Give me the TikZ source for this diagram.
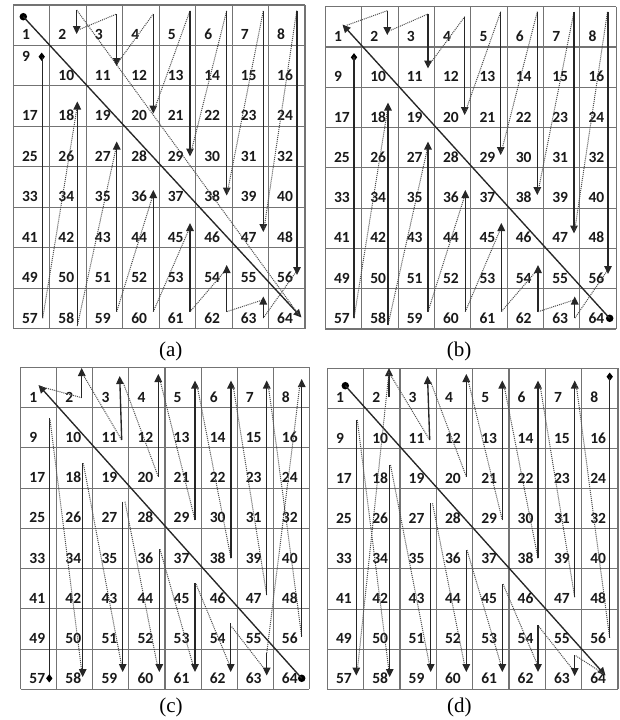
\documentclass[tikz,border=0pt]{standalone}
\usepackage{fontspec}
\setmainfont{Liberation Serif}
\newfontfamily\numfont{Carlito}
\usetikzlibrary{arrows.meta,shapes.geometric}

\tikzset{
  gridline/.style={draw=black!55, line width=1.1pt},
  num/.style={anchor=base west, inner sep=0pt, font=\numfont\bfseries\fontsize{15.5}{15.5}\selectfont, text=black!90},
  sline/.style={draw=black!85, line width=1.35pt},
  dline/.style={draw=black!70, line width=1pt, densely dotted},
  arrowend/.style={-{Triangle[length=8pt,width=7.5pt]}},
  dotmark/.style={circle, fill=black, inner sep=0pt, minimum size=7.5pt},
  diamark/.style={diamond, fill=black, inner sep=0pt, minimum width=6.5pt, minimum height=8.5pt},
  captext/.style={font=\fontsize{21}{21}\selectfont, inner sep=0pt},
}

\newcommand\drawgrid[6]{%
  \foreach \ii in {0,...,8} {%
    \draw[gridline] ({#1+(#3-#1)*\ii/8},#2) -- ({#1+(#3-#1)*\ii/8},#4);
    \draw[gridline] (#1,{#2+(#4-#2)*\ii/8}) -- (#3,{#2+(#4-#2)*\ii/8});
  }
  \foreach \rr in {0,...,7} {\foreach \cc in {0,...,7} {%
    \pgfmathtruncatemacro\cellnum{\rr*8+\cc+1}%
    \ifnum\cellnum=#6\relax
      \node[num] (#5\cellnum) at ({#1+(#3-#1)*\cc/8+8.5},{#2+(#4-#2)*\rr/8+16}) {\cellnum};
    \else
      \node[num] (#5\cellnum) at ({#1+(#3-#1)*\cc/8+8.5},{#2+(#4-#2)*(\rr+1)/8-5.5}) {\cellnum};
    \fi
  }}
}
\newcommand\seg[4]{\coordinate (#1s) at (#3); \coordinate (#1e) at (#4); \draw[#2] (#1s) -- (#1e);}

\begin{document}
\begin{tikzpicture}[x=1pt,y=-1pt]
\fill[white] (0,0) rectangle (619,720);
\useasboundingbox (0,0) rectangle (619,720);

\drawgrid{13.3}{5}{305}{328.5}{a}{9}
\drawgrid{325.3}{6.7}{616.3}{329}{b}{0}
\drawgrid{20.7}{367.3}{309.3}{689.3}{c}{0}
\drawgrid{327.3}{368.3}{618}{689.3}{d}{0}

% ---------- panel (a)
\node[dotmark] (adot) at (23.3,16.7) {};
\coordinate (aend) at (301.5,317.5);
\draw[sline,arrowend] (adot.center) -- (aend);
\seg{aL}{dline}{76.7,10}{299,315}
\seg{aU2}{sline,arrowend}{76.7,10}{76.7,34}
\seg{aD2}{dline}{78,30}{116.7,14}
\seg{aU3}{sline,arrowend}{116.7,14}{116.7,66}
\seg{aD3}{dline}{117.5,63}{153.3,14}
\seg{aU4}{sline,arrowend}{153.3,14}{153.3,113.5}
\seg{aD4}{dline}{154,110.5}{190,10.7}
\seg{aU5}{sline,arrowend}{190,10.7}{190,156.5}
\seg{aD5}{dline}{190.7,153.5}{226.7,10.7}
\seg{aU6}{sline,arrowend}{226.7,10.7}{226.7,195.5}
\seg{aD6}{dline}{227.3,192.5}{263.3,10.7}
\seg{aU7}{sline,arrowend}{263.3,10.7}{263.3,232}
\seg{aD7}{dline}{264,229}{296.7,10.7}
\seg{aU8}{sline,arrowend}{297,10.7}{297,275}
\seg{aD8}{dline}{296,272}{263.3,318}
\node[diamark] (adia) at (41.7,56.7) {};
\seg{aV1}{sline}{42.7,57}{42.7,318.3}
\seg{aE1}{dline}{42.7,318.3}{77.3,106}
\seg{aV2}{sline,arrowend}{77.3,326}{77.3,101.5}
\seg{aE2}{dline}{77.3,326}{116.7,145}
\seg{aV3}{sline,arrowend}{116.7,311.7}{116.7,141.5}
\seg{aE3}{dline}{116.7,311.7}{153.3,194}
\seg{aV4}{sline,arrowend}{153.3,311.7}{153.3,190}
\seg{aE4}{dline}{153.3,311.7}{190,227}
\seg{aV5}{sline,arrowend}{190,311.7}{190,223}
\seg{aE5}{dline}{190,311.7}{226.7,269}
\seg{aV6}{sline,arrowend}{226.7,311.7}{226.7,265}
\seg{aE6}{dline}{226.7,311.7}{262.5,300}
\seg{aV7}{sline,arrowend}{263.3,318}{263.3,296.5}

% ---------- panel (b)
\node[dotmark] (bdot) at (609.7,318.3) {};
\coordinate (bend) at (342.5,24.5);
\draw[sline,arrowend] (bdot.center) -- (bend);
\seg{bS}{dline}{387.3,10.7}{346,25.5}
\seg{bU2}{sline,arrowend}{387.3,10.7}{387.3,35}
\seg{bD2}{dline}{389,31}{428,14}
\seg{bU3}{sline,arrowend}{428,14}{428,68.5}
\seg{bD3}{dline}{428.7,65.5}{464.7,16.7}
\seg{bU4}{sline,arrowend}{464.7,16.7}{464.7,115}
\seg{bD4}{dline}{465.3,112}{500.7,11.7}
\seg{bU5}{sline,arrowend}{500.7,11.7}{500.7,155}
\seg{bD5}{dline}{501.3,152}{537.3,11.7}
\seg{bU6}{sline,arrowend}{537.3,11.7}{537.3,195}
\seg{bD6}{dline}{538,192}{574,11.7}
\seg{bU7}{sline,arrowend}{574,11.7}{574,233.5}
\seg{bD7}{dline}{574.7,230.5}{607.5,11.7}
\seg{bU8}{sline,arrowend}{608,11.7}{608,274}
\seg{bD8}{dline}{607,271}{574.7,318.3}
\node[diamark] (bdia) at (354,57.3) {};
\seg{bV1}{sline}{354,57.3}{354,318.3}
\seg{bE1}{dline}{354,318.3}{388,107}
\seg{bV2}{sline,arrowend}{388,325}{388,102.5}
\seg{bE2}{dline}{388,325}{428,146}
\seg{bV3}{sline,arrowend}{428,311.7}{428,141.5}
\seg{bE3}{dline}{428,311.7}{465.3,194}
\seg{bV4}{sline,arrowend}{465.3,311.7}{465.3,190}
\seg{bE4}{dline}{465.3,311.7}{501.3,227}
\seg{bV5}{sline,arrowend}{501.3,311.7}{501.3,223}
\seg{bE5}{dline}{501.3,311.7}{538,269}
\seg{bV6}{sline,arrowend}{538,311.7}{538,265}
\seg{bE6}{dline}{538,311.7}{574,300}
\seg{bV7}{sline,arrowend}{574.7,318.3}{574.7,296.5}

% ---------- panel (c)
\node[dotmark] (cdot) at (301.7,678.3) {};
\coordinate (cend) at (38.5,385);
\draw[sline,arrowend] (cdot.center) -- (cend);
\seg{cS}{dline}{81.7,397.7}{42,387}
\seg{cU2}{sline,arrowend}{81.7,397.7}{81.7,368}
\seg{cD2}{dline}{83.3,375}{121.7,440}
\seg{cU3}{sline,arrowend}{121.7,440}{119.7,376}
\seg{cD3}{dline}{123.3,383}{158.3,476.7}
\seg{cU4}{sline,arrowend}{158.3,476.7}{158.3,374}
\seg{cD4}{dline}{160,380}{195,520}
\seg{cU5}{sline,arrowend}{195,520}{195,380.5}
\seg{cD5}{dline}{197,385}{231,558.3}
\seg{cU6}{sline,arrowend}{231,558.3}{231,380.5}
\seg{cD6}{dline}{233,385}{266.7,595}
\seg{cU7}{sline,arrowend}{266.7,595}{266.7,380.5}
\seg{cD7}{dline}{268.3,385}{301.7,636.7}
\seg{cU8}{sline,arrowend}{301.7,636.7}{301.7,379}
\seg{cD8}{dline}{300,384}{266.7,653.3}
\seg{cV1}{sline}{49.3,418.3}{49.3,678.3}
\node[diamark] (cdia) at (49.3,678.3) {};
\seg{cE1}{dline}{50,420}{81.7,671}
\seg{cV2}{sline,arrowend}{82.7,463.3}{82.7,677}
\seg{cE2}{dline}{83.3,463.3}{121.7,666}
\seg{cV3}{sline,arrowend}{122.7,501.7}{122.7,672}
\seg{cE3}{dline}{125,501.7}{157.5,666}
\seg{cV4}{sline,arrowend}{159.3,549.3}{159.3,672}
\seg{cE4}{dline}{160,549.3}{193.3,666}
\seg{cV5}{sline,arrowend}{195,583.3}{195,672}
\seg{cE5}{dline}{196,584}{230,666}
\seg{cV6}{sline,arrowend}{230.7,623.3}{230.7,672}
\seg{cE6}{dline}{231.7,626.7}{266,671}
\seg{cV7}{sline,arrowend}{266.7,653.3}{266.7,675.5}

% ---------- panel (d)
\node[dotmark] (ddot) at (345.3,385.7) {};
\coordinate (dend) at (605.5,675.5);
\draw[sline,arrowend] (ddot.center) -- (dend);
\seg{dU2}{sline,arrowend}{389,396.7}{389,368}
\seg{dD2}{dline}{390.5,375}{429.7,440}
\seg{dU3}{sline,arrowend}{429.7,440}{427.5,376}
\seg{dD3}{dline}{430.7,382}{466.3,476.7}
\seg{dU4}{sline,arrowend}{466.3,476.7}{466.3,374}
\seg{dD4}{dline}{468,380}{502.3,520}
\seg{dU5}{sline,arrowend}{502.3,520}{502.3,380.5}
\seg{dD5}{dline}{504,385}{538,558.3}
\seg{dU6}{sline,arrowend}{538,558.3}{538,380.5}
\seg{dD6}{dline}{540,385}{574.7,597.3}
\seg{dU7}{sline,arrowend}{574.7,597.3}{574.7,380.5}
\seg{dD7}{dline}{576.3,385}{609.7,638.3}
\node[diamark] (ddia) at (609.7,376.7) {};
\seg{dU8}{sline}{609.7,376.7}{609.7,638.3}
\seg{dV1}{sline,arrowend}{356.3,420}{356.3,675.5}
\seg{dS}{dline}{389,372}{357.5,669}
\seg{dE1}{dline}{357.3,420}{389,671}
\seg{dV2}{sline,arrowend}{389.7,465}{389.7,677}
\seg{dE2}{dline}{390.5,465}{429.7,666}
\seg{dV3}{sline,arrowend}{430.7,503.3}{430.7,672}
\seg{dE3}{dline}{432.5,503.3}{464.7,666}
\seg{dV4}{sline,arrowend}{466.3,550}{466.3,672}
\seg{dE4}{dline}{467,550}{501.3,666}
\seg{dV5}{sline,arrowend}{502.3,584}{502.3,672}
\seg{dE5}{dline}{503,584}{538,666}
\seg{dV6}{sline,arrowend}{538,625}{538,672}
\seg{dE6}{dline}{539,626.7}{574,671}
\seg{dV7}{sline,arrowend}{574.7,655}{574.7,676}
\seg{dE7}{dline}{575.7,655.7}{604,674}

% ---------- captions
\node[captext] (capa) at (170.8,351) {(a)};
\node[captext] (capb) at (459,351) {(b)};
\node[captext] (capc) at (171,707) {(c)};
\node[captext] (capd) at (459.3,707) {(d)};
\end{tikzpicture}
\end{document}
